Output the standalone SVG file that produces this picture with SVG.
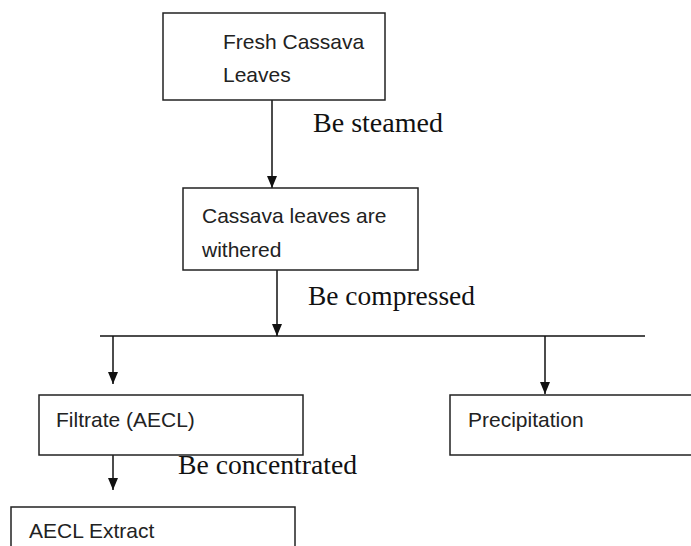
<svg xmlns="http://www.w3.org/2000/svg" width="691" height="546" viewBox="0 0 691 546">
<defs>
<style>
.box{fill:#fff;stroke:#222;stroke-width:1.5}
.bt{font-family:"Liberation Sans","Open Sans",sans-serif;font-size:21px;fill:#222}
.lt{font-family:"Liberation Serif",serif;font-size:27px;fill:#111}
.ln{stroke:#111;stroke-width:1.5;fill:none}
</style>
<marker id="ah" markerWidth="12" markerHeight="10" refX="12" refY="5" orient="auto" markerUnits="userSpaceOnUse" viewBox="0 0 12 10">
<path d="M0,0 L12,5 L0,10 Z" fill="#111"/>
</marker>
</defs>
<rect width="691" height="546" fill="#fff"/>
<g id="connectors">
<line class="ln" x1="272" y1="100" x2="272" y2="188" marker-end="url(#ah)"/>
<line class="ln" x1="277" y1="270" x2="277" y2="336" marker-end="url(#ah)"/>
<line class="ln" x1="100" y1="336" x2="645" y2="336"/>
<line class="ln" x1="113" y1="336" x2="113" y2="384" marker-end="url(#ah)"/>
<line class="ln" x1="545" y1="336" x2="545" y2="394" marker-end="url(#ah)"/>
<line class="ln" x1="113" y1="455" x2="113" y2="490" marker-end="url(#ah)"/>
<text class="lt" x="313" y="132" textLength="130" lengthAdjust="spacingAndGlyphs">Be steamed</text>
<text class="lt" x="308" y="305" textLength="167" lengthAdjust="spacingAndGlyphs">Be compressed</text>
<text class="lt" x="178" y="474" textLength="179" lengthAdjust="spacingAndGlyphs">Be concentrated</text>
</g>
<g id="fresh">
<rect class="box" x="163" y="13" width="222" height="87"/>
<text class="bt" x="223" y="49">Fresh Cassava</text>
<text class="bt" x="223" y="82">Leaves</text>
</g>
<g id="withered">
<rect class="box" x="183" y="188" width="235" height="82"/>
<text class="bt" x="202" y="223">Cassava leaves are</text>
<text class="bt" x="202" y="257">withered</text>
</g>
<g id="filtrate">
<rect class="box" x="39" y="395" width="264" height="60"/>
<text class="bt" x="56" y="427">Filtrate (AECL)</text>
</g>
<g id="precipitation">
<rect class="box" x="450" y="395" width="245" height="60"/>
<text class="bt" x="468" y="427">Precipitation</text>
</g>
<g id="extract">
<rect class="box" x="11" y="507" width="284" height="60"/>
<text class="bt" x="29" y="538">AECL Extract</text>
</g>
</svg>
